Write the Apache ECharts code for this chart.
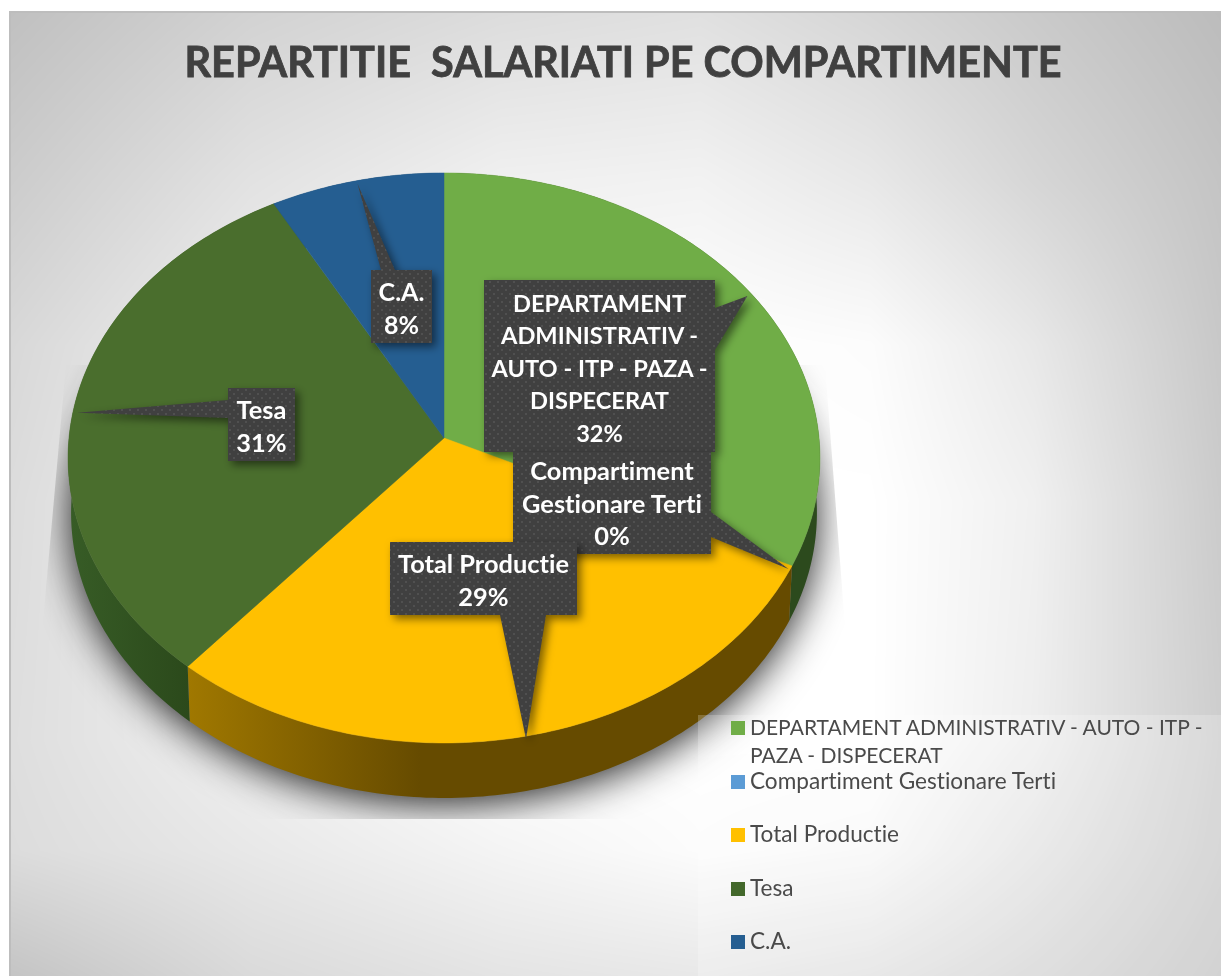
<!DOCTYPE html>
<html>
<head>
<meta charset="utf-8">
<title>Repartitie salariati</title>
<style>
  html, body { margin: 0; padding: 0; background: #fff; }
  #chart { width: 1221px; height: 976px; }
</style>
<script src="https://cdn.jsdelivr.net/npm/echarts@6/dist/echarts.min.js"></script>
</head>
<body>
<div id="chart"></div>
<script>
// date din grafic
var categories = [
  'DEPARTAMENT ADMINISTRATIV - AUTO - ITP - PAZA - DISPECERAT',
  'Compartiment Gestionare Terti',
  'Total Productie',
  'Tesa',
  'C.A.'
];
var values = [32.2, 0, 29, 30.8, 8];
var calloutLines = [
  ['DEPARTAMENT', 'ADMINISTRATIV -', 'AUTO - ITP - PAZA -', 'DISPECERAT'],
  ['Compartiment', 'Gestionare Terti'],
  ['Total Productie'],
  ['Tesa'],
  ['C.A.']
];
var titleText = 'REPARTITIE  SALARIATI PE COMPARTIMENTE';

// culori
var topColors = ['#70ad47', '#5b9bd5', '#ffc000', '#4a6e2d', '#255e91'];
var legendColors = ['#70ad47', '#5b9bd5', '#ffc000', '#43682b', '#255e91'];
var wallColors = ['#2c4a1d', '#2c4a1d', null, null, '#1a3f60'];

// geometrie: cercul proiectat in perspectiva
var CX = 444, CY = 438, RX = 375, RY = 283.6, K = 0.07, DEPTH = 55;
var total = values.reduce(function (a, b) { return a + b; }, 0);

// [x, y, w, h] caseta, side = latura pe care sta varful, a/b = baza varfului
var calloutBoxes = [
  { box: [484, 280, 231, 172], side: 'right', a: 308, b: 350, font: 23.6 },
  { box: [513, 452, 198, 102], side: 'right', a: 512, b: 537, font: 25.4 },
  { box: [390, 542, 187, 73], side: 'bottom', a: 546, b: 500, font: 25.4 },
  { box: [228, 388, 67, 73], side: 'left', a: 418, b: 400, font: 25.4 },
  { box: [371, 270, 61, 73], side: 'top', a: 381, b: 395, font: 25 }
];
var legendTops = [681, 763, 816, 870, 923];

// fara ligaturi "ti" in Lato
var origGetContext = HTMLCanvasElement.prototype.getContext;
HTMLCanvasElement.prototype.getContext = function () {
  var ctx = origGetContext.apply(this, arguments);
  if (ctx && 'textRendering' in ctx) {
    ctx.textRendering = 'optimizeSpeed';
    ctx.fontKerning = 'normal';
  }
  return ctx;
};

function rim(pct, drop, shrink) {
  var t = pct / total * Math.PI * 2;
  var u = Math.sin(t), v = Math.cos(t), w = 1 + K * v;
  var s = shrink || 1;
  return [CX + RX * s * u / w, CY - RY * v / w + (drop || 0)];
}

function arcPoints(from, to, drop, shrink) {
  var pts = [];
  var n = Math.max(2, Math.ceil((to - from) * 4));
  for (var i = 0; i <= n; i++) {
    pts.push(rim(from + (to - from) * i / n, drop, shrink));
  }
  return pts;
}

var starts = [];
values.reduce(function (acc, v, i) { starts[i] = acc; return acc + v; }, 0);

function wallFill(i) {
  if (i === 2) {
    return {
      type: 'linear', x: 188, y: 0, x2: 420, y2: 0, global: true,
      colorStops: [{ offset: 0, color: '#a07800' }, { offset: 1, color: '#664b00' }]
    };
  }
  if (i === 3) {
    return {
      type: 'linear', x: 70, y: 0, x2: 190, y2: 0, global: true,
      colorStops: [{ offset: 0, color: '#375c26' }, { offset: 1, color: '#2b491b' }]
    };
  }
  return wallColors[i];
}

// fundal gri cu centru alb, interpolat pe o grila de tonuri
var bgX = [10, 250, 500, 700, 870, 1033, 1221];
var bgY = [12, 180, 345, 500, 740, 850, 976];
var bgGrey = [
  [0xc0, 0xd2, 0xdc, 0xe0, 0xd6, 0xca, 0xbc],
  [0xcc, 0xe2, 0xf0, 0xf2, 0xe8, 0xd6, 0xc4],
  [0xd8, 0xf0, 0xfc, 0xff, 0xfc, 0xe8, 0xc8],
  [0xdc, 0xf4, 0xff, 0xff, 0xff, 0xf0, 0xcb],
  [0xde, 0xf0, 0xff, 0xff, 0xff, 0xee, 0xce],
  [0xdc, 0xe8, 0xf4, 0xfc, 0xf8, 0xe4, 0xcc],
  [0xc4, 0xda, 0xe4, 0xe8, 0xe2, 0xd6, 0xc6]
];

function cellOf(nodes, p) {
  var i = 0;
  while (i < nodes.length - 2 && p > nodes[i + 1]) i++;
  return [i, Math.max(0, Math.min(1, (p - nodes[i]) / (nodes[i + 1] - nodes[i])))];
}

function makeBackground() {
  var c = document.createElement('canvas');
  c.width = 1221; c.height = 976;
  var ctx = c.getContext('2d');
  var img = ctx.createImageData(1221, 976);
  for (var y = 0; y < 976; y++) {
    var cy = cellOf(bgY, y);
    for (var x = 0; x < 1221; x++) {
      var cx = cellOf(bgX, x);
      var r0 = bgGrey[cy[0]], r1 = bgGrey[cy[0] + 1];
      var a = r0[cx[0]] + (r0[cx[0] + 1] - r0[cx[0]]) * cx[1];
      var b = r1[cx[0]] + (r1[cx[0] + 1] - r1[cx[0]]) * cx[1];
      var g = a + (b - a) * cy[1];
      var o = (y * 1221 + x) * 4;
      img.data[o] = img.data[o + 1] = img.data[o + 2] = g;
      img.data[o + 3] = 255;
    }
  }
  ctx.putImageData(img, 0, 0);
  return c;
}

function makeDots() {
  var c = document.createElement('canvas');
  c.width = 8; c.height = 8;
  var ctx = c.getContext('2d');
  ctx.fillStyle = '#404040';
  ctx.fillRect(0, 0, 8, 8);
  ctx.fillStyle = '#505050';
  ctx.fillRect(1, 1, 2, 2);
  ctx.fillRect(5, 5, 2, 2);
  return c;
}
var dots = makeDots();

function calloutPoints(cfg, tip) {
  var x = cfg.box[0], y = cfg.box[1], x2 = x + cfg.box[2], y2 = y + cfg.box[3];
  var pts = [[x, y]];
  if (cfg.side === 'top') pts.push([cfg.a, y], tip, [cfg.b, y]);
  pts.push([x2, y]);
  if (cfg.side === 'right') pts.push([x2, cfg.a], tip, [x2, cfg.b]);
  pts.push([x2, y2]);
  if (cfg.side === 'bottom') pts.push([cfg.a, y2], tip, [cfg.b, y2]);
  pts.push([x, y2]);
  if (cfg.side === 'left') pts.push([x, cfg.a], tip, [x, cfg.b]);
  return pts;
}

var series = [];

// umbra de sub disc, taiata de caseta ei
series.push({
  type: 'custom', name: 'umbra', coordinateSystem: 'none', z: 1, silent: true,
  data: [[0]],
  renderItem: function () {
    return {
      type: 'polygon',
      shape: { points: arcPoints(0, total, DEPTH - 3, 0.99) },
      style: { fill: '#888', shadowColor: 'rgba(0,0,0,0.9)', shadowBlur: 40, shadowOffsetY: 8 },
      clipPath: {
        type: 'polygon',
        shape: { points: [[66, 365], [43, 622], [46, 819], [846, 819], [846, 640], [825, 365]] }
      }
    };
  }
});

// peretii discului
series.push({
  type: 'custom', name: 'pereti', coordinateSystem: 'none', z: 2, silent: true,
  data: values.map(function (v, i) { return [i, v]; }),
  renderItem: function (params, api) {
    var i = api.value(0);
    var v = api.value(1);
    if (!v) return null;
    var upper = arcPoints(starts[i], starts[i] + v, 0);
    var lower = arcPoints(starts[i], starts[i] + v, DEPTH, 0.992).reverse();
    return {
      type: 'polygon',
      shape: { points: upper.concat(lower) },
      style: { fill: wallFill(i) }
    };
  }
});

// felii, cate o serie pe categorie ca sa apara in legenda
categories.forEach(function (name, i) {
  series.push({
    type: 'custom', name: name, coordinateSystem: 'none', z: 3, silent: true,
    itemStyle: { color: legendColors[i] },
    data: [[values[i]]],
    renderItem: function (params, api) {
      var v = api.value(0);
      if (!v) return null;
      return {
        type: 'polygon',
        shape: { points: [[CX, CY]].concat(arcPoints(starts[i], starts[i] + v, 0)) },
        style: { fill: topColors[i], stroke: topColors[i], lineWidth: 0.5 }
      };
    }
  });
});

// etichete cu varf catre marginea feliei
series.push({
  type: 'custom', name: 'etichete', coordinateSystem: 'none', z: 4, silent: true,
  data: values.map(function (v, i) { return [i, v]; }),
  renderItem: function (params, api) {
    var i = api.value(0);
    var v = api.value(1);
    var cfg = calloutBoxes[i];
    var tip = rim(starts[i] + v / 2, 0, 0.99);
    tip[1] += 3;
    return {
      type: 'group',
      children: [{
        type: 'polygon',
        shape: { points: calloutPoints(cfg, tip) },
        style: {
          fill: { image: dots, repeat: 'repeat' },
          shadowColor: 'rgba(0,0,0,0.5)', shadowBlur: 8, shadowOffsetX: 4, shadowOffsetY: 4
        }
      }, {
        type: 'text',
        z2: 5,
        style: {
          text: calloutLines[i].concat([Math.round(v / total * 100) + '%']).join('\n'),
          x: cfg.box[0] + cfg.box[2] / 2,
          y: cfg.box[1] + cfg.box[3] / 2 + (i === 1 ? 1.5 : 3),
          align: 'center', verticalAlign: 'middle',
          fontFamily: 'Lato', fontWeight: 'bold', fontSize: cfg.font, lineHeight: 32.5,
          fill: '#ffffff'
        }
      }]
    };
  }
});

// prima intrare are doua randuri; randul gol de sus tine iconita pe primul rand de text
var legends = categories.map(function (name, i) {
  return {
    data: [name],
    left: 726, top: legendTops[i], z: 10,
    orient: 'vertical', icon: 'rect', itemWidth: 14, itemHeight: 14,
    selectedMode: false,
    formatter: i === 0 ? function () { return '\nDEPARTAMENT ADMINISTRATIV - AUTO - ITP -\nPAZA - DISPECERAT'; } : undefined,
    textStyle: { fontFamily: 'Lato', fontSize: i === 0 ? 21 : 22.6, color: '#4a4a4a', lineHeight: 28 }
  };
});

var chart = echarts.init(document.getElementById('chart'), null, { renderer: 'canvas' });
chart.setOption({
  animation: false,
  title: {
    text: titleText, left: 618, top: 38, textAlign: 'center',
    textStyle: {
      fontFamily: 'Lato', fontWeight: 'bold', fontSize: 41.4, color: '#404040',
      textBorderColor: '#404040', textBorderWidth: 0.8
    }
  },
  legend: legends,
  tooltip: { show: false },
  graphic: [
    { type: 'image', z: -2, silent: true, style: { image: makeBackground(), x: 0, y: 0 } },
    // margine alba si chenar
    { type: 'rect', z: -1, silent: true, shape: { x: 0, y: 0, width: 1221, height: 11 }, style: { fill: '#fff' } },
    { type: 'rect', z: -1, silent: true, shape: { x: 0, y: 0, width: 9, height: 976 }, style: { fill: '#fff' } },
    { type: 'rect', z: -1, silent: true, shape: { x: 10, y: 12, width: 1240, height: 1000 }, style: { fill: 'none', stroke: '#bdbdbd', lineWidth: 2 } },
    // fundalul legendei
    { type: 'rect', z: 6, silent: true, shape: { x: 698, y: 715, width: 523, height: 261 }, style: { fill: 'rgba(255,255,255,0.22)' } }
  ],
  series: series
});
</script>
</body>
</html>
